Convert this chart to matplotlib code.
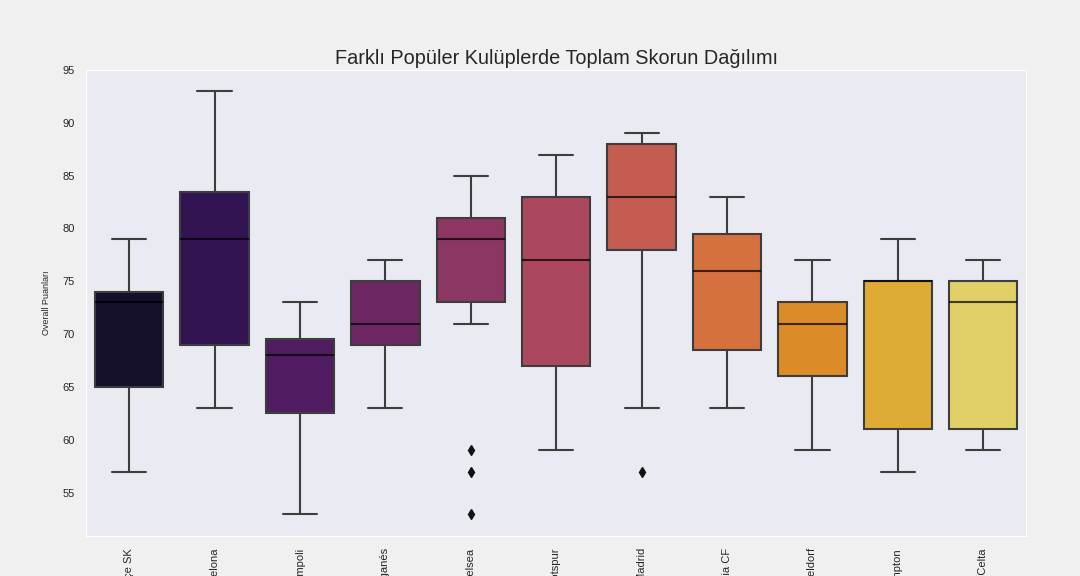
import matplotlib
matplotlib.use("Agg")
import matplotlib.pyplot as plt
import seaborn as sns

clubs = ["Fenerbahçe SK", "FC Barcelona", "Empoli", "CD Leganés", "Chelsea",
         "Tottenham Hotspur", "Real Madrid", "Valencia CF", "Fortuna Düsseldorf",
         "Southampton", "RC Celta"]

# box stats
whis_lo = [57, 63, 53, 63, 71, 59, 63, 63, 59, 57, 59]
q1 = [65, 69, 62.5, 69, 73, 67, 78, 68.5, 66, 61, 61]
med = [73, 79, 68, 71, 79, 77, 83, 76, 71, 75, 73]
q3 = [74, 83.5, 69.5, 75, 81, 83, 88, 79.5, 73, 75, 75]
whis_hi = [79, 93, 73, 77, 85, 87, 89, 83, 77, 79, 77]
outliers = [[], [], [], [], [59, 57, 53], [], [57], [], [], [], []]

sns.set_style("dark")
plt.rcParams["figure.facecolor"] = "#f0f0f0"
plt.rcParams["font.family"] = ["Liberation Sans", "DejaVu Sans"]

palette = [sns.desaturate(c, 0.75) for c in sns.color_palette("inferno", len(clubs))]
gray = "#3d3d3d"

fig = plt.figure(figsize=(10.8, 5.76), dpi=100)
ax = fig.add_axes([0.08, 0.07, 0.87, 0.8085])

stats = []
for i, name in enumerate(clubs):
    stats.append({"label": name, "whislo": whis_lo[i], "q1": q1[i], "med": med[i],
                  "q3": q3[i], "whishi": whis_hi[i], "fliers": outliers[i]})

bp = ax.bxp(stats, positions=range(len(clubs)), widths=0.8, patch_artist=True,
            boxprops=dict(edgecolor=gray, linewidth=1.5),
            whiskerprops=dict(color=gray, linewidth=1.5),
            capprops=dict(color=gray, linewidth=1.5),
            medianprops=dict(color="black", alpha=0.72, linewidth=1.5),
            flierprops=dict(marker="d", markerfacecolor="#111111",
                            markeredgecolor="#111111", markersize=5))
for patch, col in zip(bp["boxes"], palette):
    patch.set_facecolor(col)

ax.set_xlim(-0.5, len(clubs) - 0.5)
ax.set_ylim(50.93, 95)
ax.set_xticks(range(len(clubs)))
ax.set_xticklabels(clubs, rotation=90, fontsize=8)
ax.tick_params(axis="y", labelsize=8, length=0, pad=8.5)
ax.tick_params(axis="x", length=0, pad=9)
ax.set_ylabel("Overall Puanları", fontsize=6.5, labelpad=8)
ax.set_title("Farklı Popüler Kulüplerde Toplam Skorun Dağılımı", fontsize=14.3,
             color="#262626", pad=4)

fig.savefig("out.png", dpi=100, facecolor=fig.get_facecolor())
